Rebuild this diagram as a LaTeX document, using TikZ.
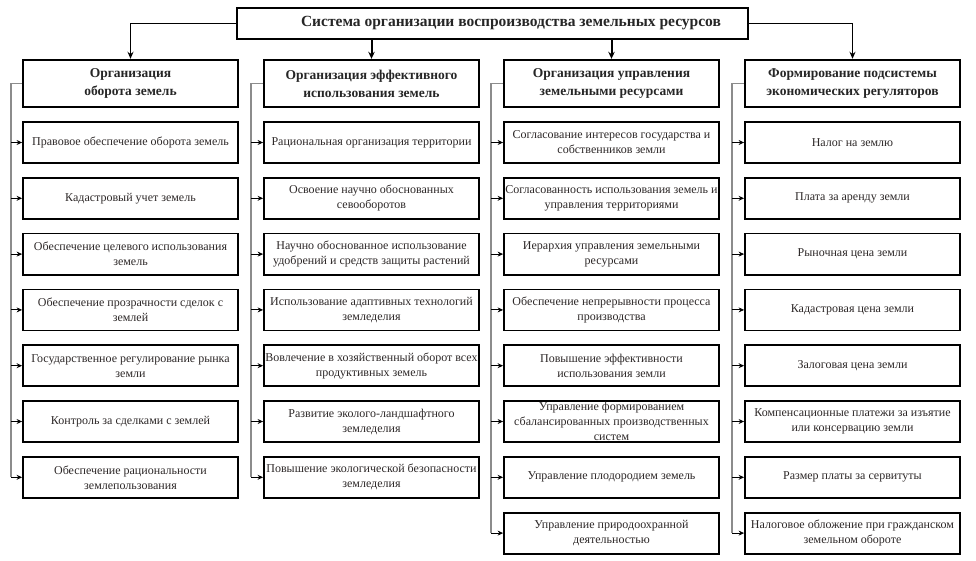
\documentclass[tikz,border=0pt]{standalone}
\usepackage{fontspec}
\setmainfont{Liberation Serif}
\usetikzlibrary{arrows.meta}
\definecolor{txt}{RGB}{45,40,40}
\definecolor{bus}{RGB}{140,140,140}
\tikzset{
  itembox/.style={draw=black, line width=1.8pt, minimum width=215pt, minimum height=41pt,
    align=center, inner sep=1pt, text=txt, font=\fontsize{12}{15}\selectfont},
  hdrbox/.style={draw=black, line width=2.4pt, minimum width=215pt, minimum height=47pt,
    align=center, inner sep=1pt, text=black!85, font=\bfseries\fontsize{13.5}{18}\selectfont},
  titlebox/.style={draw=black, line width=1.8pt, minimum width=511pt, minimum height=31pt},
  busline/.style={draw=bus, line width=1.1pt},
  itemarr/.style={draw=black, line width=1.1pt, -{Stealth[length=5.5pt,width=5pt]}},
  toparr/.style={draw=black, line width=1.4pt, -{Stealth[length=7pt,width=6pt]}},
  topmid/.style={draw=black, line width=2pt, -{Stealth[length=7pt,width=6.5pt]}}
}
\begin{document}
\begin{tikzpicture}[x=1pt,y=-1pt]
\useasboundingbox (0,0) rectangle (976,561);
\fill[white] (0,0) rectangle (976,561);

\node[titlebox] (title) at (492.5,23.5) {};
\node[text=black!85, font=\bfseries\fontsize{15.5}{18}\selectfont] (ttext) at (511,23.5)
  {Система организации воспроизводства земельных ресурсов};

\node[hdrbox] (h1) at (130.5,83.5) {Организация\\оборота земель};
\node[hdrbox] (h2) at (371.5,83.5) {Организация эффективного\\использования земель};
\node[hdrbox] (h3) at (611.5,83.5) {Организация управления\\земельными ресурсами};
\node[hdrbox] (h4) at (852.5,83.5) {Формирование подсистемы\\экономических регуляторов};

\draw[toparr] (title.west) -| (h1.north);
\draw[topmid] (title.south -| h2.north) -- (h2.north);
\draw[topmid] (title.south -| h3.north) -- (h3.north);
\draw[toparr] (title.east) -| (h4.north);

\coordinate (bus1) at (11,83.5);
\coordinate (bus2) at (251,83.5);
\coordinate (bus3) at (491,83.5);
\coordinate (bus4) at (732,83.5);

% column 1
\foreach \t [count=\i] in {
  {Правовое обеспечение оборота земель},
  {Кадастровый учет земель},
  {Обеспечение целевого использования\\земель},
  {Обеспечение прозрачности сделок с\\землей},
  {Государственное регулирование рынка\\земли},
  {Контроль за сделками с землей},
  {Обеспечение рациональности\\землепользования}} {
  \node[itembox] (a\i) at (130.5,{142.5+55.8*(\i-1)}) {\t};
}
% column 2
\foreach \t [count=\i] in {
  {Рациональная организация территории},
  {Освоение научно обоснованных\\севооборотов},
  {Научно обоснованное использование\\удобрений и средств защиты растений},
  {Использование адаптивных технологий\\земледелия},
  {Вовлечение в хозяйственный оборот всех\\продуктивных земель},
  {Развитие эколого-ландшафтного\\земледелия},
  {Повышение экологической безопасности\\земледелия}} {
  \node[itembox] (b\i) at (371.5,{142.5+55.8*(\i-1)}) {\t};
}
% column 3
\foreach \t [count=\i] in {
  {Согласование интересов государства и\\собственников земли},
  {Согласованность использования земель и\\управления территориями},
  {Иерархия управления земельными\\ресурсами},
  {Обеспечение непрерывности процесса\\производства},
  {Повышение эффективности\\использования земли},
  {\fontsize{12}{13.5}\selectfont Управление формированием\\сбалансированных производственных\\систем},
  {Управление плодородием земель},
  {Управление природоохранной\\деятельностью}} {
  \node[itembox] (c\i) at (611.5,{142.5+55.8*(\i-1)}) {\t};
}
% column 4
\foreach \t [count=\i] in {
  {Налог на землю},
  {Плата за аренду земли},
  {Рыночная цена земли},
  {Кадастровая цена земли},
  {Залоговая цена земли},
  {Компенсационные платежи за изъятие\\или консервацию земли},
  {Размер платы за сервитуты},
  {Налоговое обложение при гражданском\\земельном обороте}} {
  \node[itembox] (d\i) at (852.5,{142.5+55.8*(\i-1)}) {\t};
}

% bus lines
\draw[busline] (h1.west) -- (bus1) -- (bus1 |- a7.west);
\draw[busline] (h2.west) -- (bus2) -- (bus2 |- b7.west);
\draw[busline] (h3.west) -- (bus3) -- (bus3 |- c8.west);
\draw[busline] (h4.west) -- (bus4) -- (bus4 |- d8.west);

\foreach \i in {1,...,7} {
  \draw[itemarr] (bus1 |- a\i.west) -- (a\i.west);
  \draw[itemarr] (bus2 |- b\i.west) -- (b\i.west);
}
\foreach \i in {1,...,8} {
  \draw[itemarr] (bus3 |- c\i.west) -- (c\i.west);
  \draw[itemarr] (bus4 |- d\i.west) -- (d\i.west);
}
\end{tikzpicture}
\end{document}
